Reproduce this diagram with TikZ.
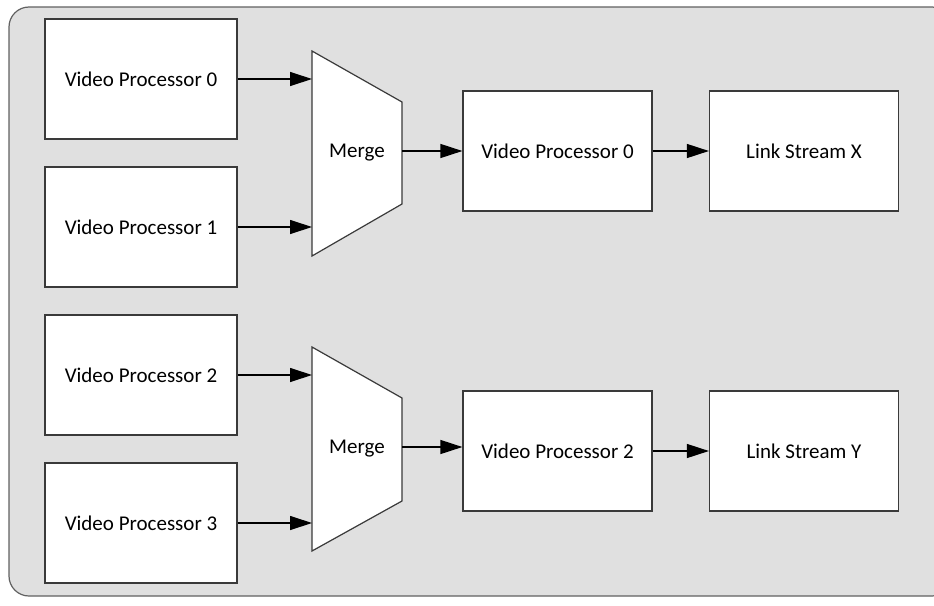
\documentclass[tikz,border=0pt]{standalone}
\usepackage{fontspec}
\setmainfont{Carlito}
\usetikzlibrary{arrows.meta}
\definecolor{bgfill}{HTML}{E0E0E0}
\definecolor{edge}{HTML}{3A3A3A}
\tikzset{
  blk/.style={draw=edge, fill=white, line width=1.2pt, minimum height=120pt, inner sep=0pt, font=\fontsize{21}{25}\selectfont},
  wblk/.style={blk, minimum width=192pt},
  nblk/.style={blk, minimum width=189pt},
  mergeshape/.style={draw=edge, fill=white, line width=1.2pt},
  lbl/.style={font=\fontsize{21}{25}\selectfont, inner sep=0pt},
  conn/.style={draw=black, line width=1.2pt, -{Triangle[length=22pt, width=14pt]}}
}
\begin{document}
\begin{tikzpicture}[x=1pt, y=-1pt]
\useasboundingbox (0,0) rectangle (934,605);
\clip (0,0) rectangle (934,605);
\draw[fill=bgfill, draw=edge!80, line width=1.2pt, rounded corners=20pt] (9,7) rectangle (952,596);

% left column
\node[wblk] (vp0) at (141,79) {Video Processor 0};
\node[wblk] (vp1) at (141,227) {Video Processor 1};
\node[wblk] (vp2) at (141,375) {Video Processor 2};
\node[wblk] (vp3) at (141,523) {Video Processor 3};

% merge shapes
\draw[mergeshape] (312,51) -- (402,102) -- (402,204) -- (312,256) -- cycle;
\node[lbl] (merge1) at (357,153) {Merge};
\coordinate (m1l) at (312,153);
\coordinate (m1r) at (402,151);
\draw[mergeshape] (312,347) -- (402,398) -- (402,501) -- (312,551) -- cycle;
\node[lbl] (merge2) at (357,449) {Merge};
\coordinate (m2l) at (312,449);
\coordinate (m2r) at (402,447);

% right side
\node[nblk] (mvp0) at (557.5,151) {Video Processor 0};
\node[nblk] (lsx) at (804,151) {Link Stream X};
\node[nblk] (mvp2) at (557.5,451) {Video Processor 2};
\node[nblk] (lsy) at (804,451) {Link Stream Y};

% connectors
\draw[conn] (vp0.east) -- (vp0.east -| m1l);
\draw[conn] (vp1.east) -- (vp1.east -| m1l);
\draw[conn] (m1r) -- (m1r -| mvp0.west);
\draw[conn] (mvp0.east) -- (lsx.west);
\draw[conn] (vp2.east) -- (vp2.east -| m2l);
\draw[conn] (vp3.east) -- (vp3.east -| m2l);
\draw[conn] (m2r) -- (m2r -| mvp2.west);
\draw[conn] (mvp2.east) -- (lsy.west);
\end{tikzpicture}
\end{document}
